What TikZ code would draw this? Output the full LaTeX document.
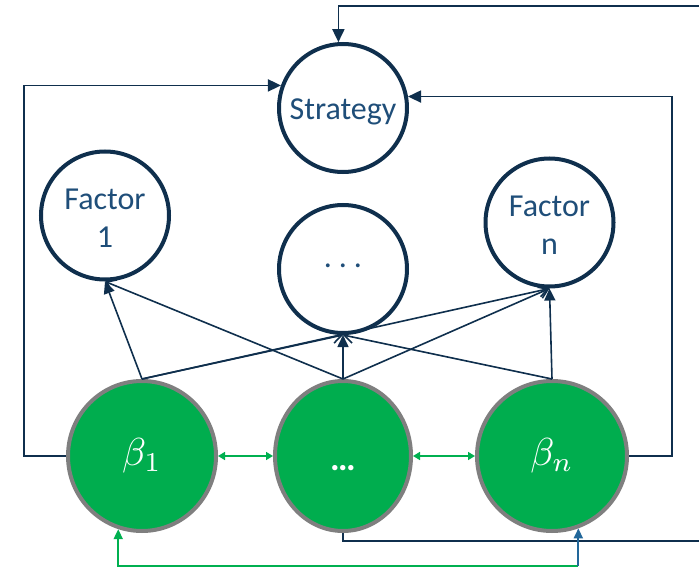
\documentclass[tikz,border=0pt]{standalone}
\usepackage{fontspec}
\setmainfont{Carlito}
\usetikzlibrary{arrows.meta,shapes.geometric,calc}
\definecolor{navy}{HTML}{0F2F4D}
\definecolor{txtblue}{HTML}{1F4E79}
\definecolor{betagreen}{HTML}{00AD4E}
\definecolor{linkgreen}{HTML}{00B050}
\definecolor{rimgray}{HTML}{7F7F7F}
\definecolor{linkblue}{HTML}{22679A}
% label lowered inside its circle by padding its height
\newcommand{\lowered}[2]{\raisebox{0pt}[\dimexpr\height+#1\relax][\depth]{#2}}
% two-line label for the factor circles
\newcommand{\twoline}[2]{\lowered{10pt}{\begin{tabular}{@{}c@{}}#1\\#2\end{tabular}}}

\begin{document}
\begin{tikzpicture}[x=1pt,y=-1pt,
  bubble/.style={circle, draw=navy, line width=4pt, minimum size=128pt, inner sep=0pt,
    text=txtblue, font=\fontsize{32}{38}\selectfont},
  coef/.style={ellipse, draw=rimgray, fill=betagreen, line width=4pt, minimum height=150pt,
    inner sep=0pt, text=white},
  link/.style={draw=navy, line width=1.6pt},
  solid arrow/.style={link, -{Triangle[length=12pt,width=11pt]}},
  barb arrow/.style={link, -{Straight Barb[length=9pt,width=12pt]}},
  loop/.style={draw=navy, line width=1.8pt, -{Triangle[length=13pt,width=12pt]}},
  pair/.style={draw=linkgreen, line width=1.6pt,
    {Triangle[length=7pt,width=8pt]}-{Triangle[length=7pt,width=8pt]}},
]
\useasboundingbox (0,0) rectangle (699,567);
\clip (0,0) rectangle (699,567);

% upper layer: strategy and factors
\node[bubble] (strat) at (343,108) {\lowered{8pt}{Strategy}};
\node[bubble] (f1) at (105,215.5) {\twoline{Factor}{1}};
\node[bubble] (mc) at (343,269) {\raisebox{7pt}{.\kern7pt.\kern7pt.}};
\node[bubble] (fn) at (549.5,222.5) {\twoline{Factor}{n}};

% lower layer: coefficients
\node[coef, minimum width=148pt] (b1) at (142,456) {\scalebox{3.9}{$\beta_1$}};
\node[coef, minimum width=136pt] (mb) at (343,456)
  {\fontsize{36}{40}\selectfont\bfseries\raisebox{-14pt}[0pt][0pt]{…}};
\node[coef, minimum width=150pt] (bn) at (552,456) {\scalebox{3.9}{$\beta_n$}};

% coefficients feed the factors
\draw[solid arrow] (b1.north) -- (f1.south);
\draw[barb arrow]  (b1.north) -- (mc.south);
\draw[barb arrow]  (b1.north) -- (fn.south);
\draw[barb arrow]  (mb.north) -- (f1.south);
\draw[solid arrow] (mb.north) -- (mc.south);
\draw[barb arrow]  (mb.north) -- (fn.south);
\draw[barb arrow]  (bn.north) -- (mc.south);
\draw[solid arrow] (bn.north) -- (fn.south);

% links between neighbouring coefficients
\draw[pair] (b1.east) -- (mb.west);
\draw[pair] (mb.east) -- (bn.west);

% feedback loops into the strategy
\draw[loop] (b1.west) -- ++(-42,0) |- (strat.160);
\draw[loop] (bn.east) -- ++(43,0) |- (strat.10);
\draw[loop] (mb.south) |- (720,541) -- (720,6) -| (strat.94);

% bottom link between the outer coefficients
\coordinate (bt) at (bn.290);
\coordinate (corner) at (bt |- 0,566);
\draw[draw=linkgreen, line width=1.8pt, -{Triangle[length=10pt,width=9pt]}] (corner) -| (b1.252);
\draw[draw=linkblue, line width=1.8pt, -{Triangle[length=10pt,width=9pt]}] (corner) -- (bt);
\end{tikzpicture}
\end{document}
